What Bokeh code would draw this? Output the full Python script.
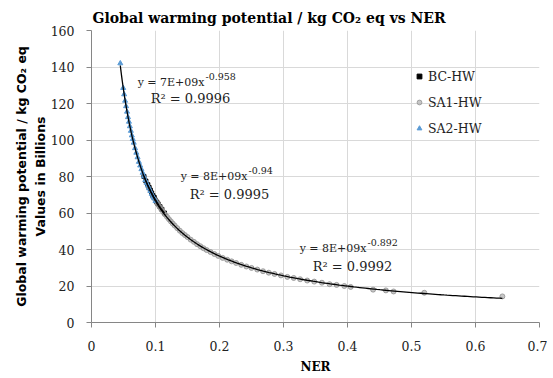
import numpy as np
from bokeh.plotting import figure
from bokeh.models import Label, Legend, LegendItem, FixedTicker, Range1d, Title
from bokeh.embed import file_html
from bokeh.resources import INLINE

# ---- data (values in billions) ----
bc_x = [0.082, 0.085, 0.088, 0.090, 0.092, 0.094, 0.096, 0.098, 0.100, 0.102, 0.104, 0.107, 0.110, 0.114]
bc_y = [80.0, 77.5, 75.5, 74.0, 72.5, 71.0, 69.5, 68.5, 67.0, 66.0, 65.0, 63.5, 62.0, 60.0]

sa1_x = [0.100, 0.103, 0.106, 0.109, 0.112, 0.115, 0.118, 0.121, 0.124, 0.127, 0.130, 0.134,
         0.138, 0.142, 0.146, 0.150, 0.155, 0.160, 0.165, 0.170, 0.175, 0.180, 0.186, 0.192,
         0.198, 0.205, 0.212, 0.219, 0.226, 0.234, 0.242, 0.250, 0.259, 0.268, 0.277, 0.286,
         0.296, 0.306, 0.316, 0.326, 0.337, 0.348, 0.360, 0.372, 0.383, 0.395, 0.405, 0.440,
         0.460, 0.472, 0.520, 0.642]
sa1_y = [67.0, 65.3, 63.6, 62.1, 60.6, 59.2, 57.9, 56.6, 55.4, 54.2, 53.1, 51.7,
         50.3, 49.0, 47.9, 46.8, 45.4, 44.2, 42.9, 41.8, 40.7, 39.7, 38.6, 37.5,
         36.5, 35.4, 34.4, 33.5, 32.6, 31.6, 30.7, 29.9, 29.0, 28.1, 27.3, 26.6,
         25.8, 25.0, 24.4, 23.7, 23.0, 22.4, 21.8, 21.0, 20.6, 20.0, 19.5, 18.0,
         17.6, 17.0, 16.3, 14.3]

sa2_x = [0.045, 0.0495, 0.051, 0.0525, 0.054, 0.0555, 0.057, 0.0585, 0.060, 0.0615, 0.063,
         0.0645, 0.066, 0.068, 0.070, 0.072, 0.074, 0.076, 0.078, 0.080, 0.082, 0.084,
         0.086, 0.088, 0.090, 0.092, 0.094, 0.096, 0.098, 0.100]
sa2_y = [142.0, 128.5, 125.0, 121.5, 118.5, 115.5, 112.5, 110.0, 107.5, 105.0, 102.5,
         100.5, 98.5, 95.5, 93.0, 90.5, 88.0, 86.0, 84.0, 82.0, 80.0, 78.0,
         76.5, 75.0, 73.5, 72.0, 70.5, 69.0, 68.0, 66.5]

x_ticks = [0, 0.1, 0.2, 0.3, 0.4, 0.5, 0.6, 0.7]
y_ticks = [0, 20, 40, 60, 80, 100, 120, 140, 160]

eq_texts = [("y = 7E+09x", "-0.958", "R\u00b2 = 0.9996"),
            ("y = 8E+09x", "-0.94", "R\u00b2 = 0.9995"),
            ("y = 8E+09x", "-0.892", "R\u00b2 = 0.9992")]

SERIF = "DejaVu Serif"

p = figure(width=547, height=376, x_range=Range1d(0, 0.7), y_range=Range1d(0, 160),
           output_backend="svg", toolbar_location=None, title=None,
           min_border_left=91, min_border_right=8, min_border_top=30, min_border_bottom=53)
p.outline_line_color = None
p.background_fill_color = "white"
p.border_fill_color = "white"

for ax, ticks in ((p.xaxis[0], x_ticks), (p.yaxis[0], y_ticks)):
    ax.ticker = FixedTicker(ticks=ticks)
    ax.axis_line_color = "#868686"
    ax.major_tick_line_color = "#868686"
    ax.major_tick_out = 5
    ax.major_tick_in = 0
    ax.minor_tick_line_color = None
    ax.major_label_text_font = SERIF
    ax.major_label_text_font_size = "12.5px"
    ax.major_label_text_color = "#222222"
p.xaxis[0].major_label_standoff = 13
p.yaxis[0].major_label_standoff = 12

p.xaxis[0].axis_label = "NER"
p.xaxis[0].axis_label_text_font = SERIF
p.xaxis[0].axis_label_text_font_size = "12px"
p.xaxis[0].axis_label_text_font_style = "bold"
p.xaxis[0].axis_label_text_color = "black"
p.xaxis[0].axis_label_standoff = 6

p.yaxis[0].axis_label = "Values in Billions"
p.yaxis[0].axis_label_text_font = "DejaVu Sans"
p.yaxis[0].axis_label_text_font_size = "12.5px"
p.yaxis[0].axis_label_text_font_style = "bold"
p.yaxis[0].axis_label_text_color = "black"
p.yaxis[0].axis_label_standoff = 0

p.add_layout(Title(text="Global warming potential / kg CO\u2082 eq", align="center",
                   text_font="DejaVu Sans", text_font_size="12.5px", text_font_style="bold",
                   text_color="black", standoff=2), "left")
p.add_layout(Title(text="Global warming potential / kg CO\u2082 eq vs NER", align="left",
                   offset=1, text_font=SERIF, text_font_size="14px", text_font_style="bold",
                   text_color="black", standoff=9), "above")

p.xgrid.ticker = FixedTicker(ticks=x_ticks)
p.ygrid.ticker = FixedTicker(ticks=y_ticks)
p.grid.grid_line_color = "#d9d9d9"
p.grid.grid_line_width = 1

# scatter series
r_bc = p.scatter(bc_x, bc_y, marker="square", size=4, color="black")
r_sa1 = p.scatter(sa1_x, sa1_y, marker="circle", size=5, fill_color="#b4b4b4",
                  line_color="#8c8c8c", alpha=0.75)
r_sa2 = p.scatter(sa2_x, sa2_y, marker="triangle", size=5, fill_color="#5b9bd5",
                  line_color="#5b9bd5")

# power-law trendlines fitted to each series
for xs, ys in ((sa2_x, sa2_y), (bc_x, bc_y), (sa1_x, sa1_y)):
    lx, ly = np.log(xs), np.log(ys)
    b, a = np.polyfit(lx, ly, 1)
    xx = np.linspace(min(xs), max(xs), 120)
    p.line(xx, np.exp(a) * xx ** b, line_color="black", line_width=1.3)

legend = Legend(items=[LegendItem(label="BC-HW", renderers=[r_bc]),
                       LegendItem(label="SA1-HW", renderers=[r_sa1]),
                       LegendItem(label="SA2-HW", renderers=[r_sa2])],
                location=(322, 183), orientation="vertical")
legend.background_fill_alpha = 0
legend.border_line_color = None
legend.padding = 0
legend.margin = 0
legend.glyph_width = 12
legend.glyph_height = 22
legend.label_height = 22
legend.spacing = 4
legend.label_standoff = 3
legend.label_text_font = SERIF
legend.label_text_font_size = "12.5px"
legend.label_text_color = "#222222"
p.add_layout(legend)

# equation labels (screen units relative to plot frame)
eq_pos = [(113, 240, 99, 224), (156, 146, 138, 128), (275, 74, 261, 56)]
for (base, expo, r2), (ax_, ay, rx, ry) in zip(eq_texts, eq_pos):
    p.add_layout(Label(x=ax_, y=ay, x_units="screen", y_units="screen", text=base,
                       text_align="right", text_baseline="middle", text_font=SERIF,
                       text_font_size="11px", text_color="#222222"))
    p.add_layout(Label(x=ax_ + 1, y=ay + 6, x_units="screen", y_units="screen", text=expo,
                       text_align="left", text_baseline="middle", text_font=SERIF,
                       text_font_size="9.5px", text_color="#222222"))
    p.add_layout(Label(x=rx, y=ry, x_units="screen", y_units="screen", text=r2,
                       text_align="center", text_baseline="middle", text_font=SERIF,
                       text_font_size="13px", text_color="#222222"))

open("out.html", "w").write(file_html(p, INLINE))
